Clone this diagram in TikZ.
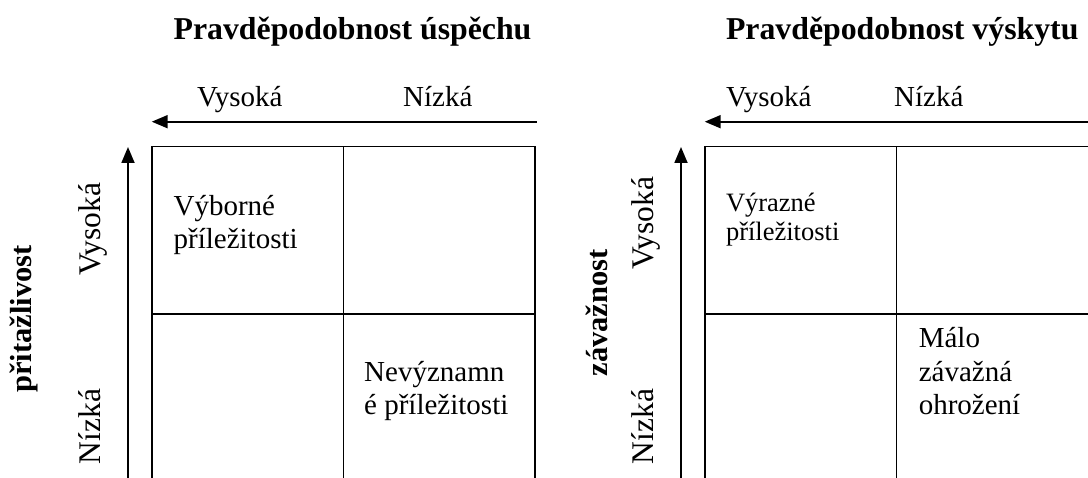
\documentclass[tikz,border=0pt]{standalone}
\usepackage{fontspec}
\setmainfont{Liberation Serif}
\usetikzlibrary{arrows.meta}
\begin{document}
\begin{tikzpicture}[x=1pt,y=-1pt,
  gridline/.style={line width=1.8pt},
  axisarrow/.style={line width=1.8pt,-{Triangle[length=16pt,width=13pt]}},
  body/.style={inner sep=0pt,font=\fontsize{29}{33}\selectfont},
  small/.style={inner sep=0pt,font=\fontsize{26.5}{28.5}\selectfont},
  titletext/.style={inner sep=0pt,font=\fontsize{31.8}{36}\selectfont\bfseries},
  sidetext/.style={inner sep=0pt,font=\fontsize{30.5}{34}\selectfont\bfseries,rotate=90,anchor=base},
  rotlabel/.style={inner sep=0pt,font=\fontsize{31.5}{34}\selectfont,rotate=90,anchor=base}
]
\useasboundingbox (0,0) rectangle (1088,478);
\clip (0,0) rectangle (1088,478);

% ---------- left panel ----------
\node[titletext,anchor=base west] (t1) at (173.4,40) {Pravděpodobnost úspěchu};
\node[body,anchor=base west] (l1h) at (197,107) {Vysoká};
\node[body,anchor=base west] (l1l) at (403,107) {Nízká};
\coordinate (L1s) at (536.7,121.7);
\coordinate (L1e) at (151.7,121.7);
\draw[axisarrow] (L1s) -- (L1e);
\coordinate (V1s) at (128,495);
\coordinate (V1e) at (128,147);
\draw[axisarrow] (V1s) -- (V1e);
\node[sidetext] (s1) at (31,319) {přitažlivost};
\node[rotlabel] (v1h) at (100,229) {Vysoká};
\node[rotlabel] (v1l) at (100,426.5) {Nízká};
\draw[gridline] (152,146.5) rectangle (535,481.5);
\draw[gridline] (343.5,146.5) -- (343.5,481.5);
\draw[gridline] (152,314) -- (535,314);
\node[body,anchor=base west] (c11) at (173.4,216)
  {\begin{tabular}[t]{@{}l@{}}Výborné\\příležitosti\end{tabular}};
\node[body,anchor=base west] (c12) at (364,382)
  {\begin{tabular}[t]{@{}l@{}}Nevýznamn\\é příležitosti\end{tabular}};

% ---------- right panel ----------
\node[titletext,anchor=base west] (t2) at (725.8,40) {Pravděpodobnost výskytu};
\node[body,anchor=base west] (l2h) at (725.8,107) {Vysoká};
\node[body,anchor=base west] (l2l) at (894,107) {Nízká};
\coordinate (L2s) at (1100,121.7);
\coordinate (L2e) at (704.7,121.7);
\draw[axisarrow] (L2s) -- (L2e);
\coordinate (V2s) at (681,495);
\coordinate (V2e) at (681,147);
\draw[axisarrow] (V2s) -- (V2e);
\node[sidetext] (s2) at (607,313) {závažnost};
\node[rotlabel] (v2h) at (653,223) {Vysoká};
\node[rotlabel] (v2l) at (653,426.5) {Nízká};
\draw[gridline] (705,146.5) rectangle (1089,481.5);
\draw[gridline] (896.5,146.5) -- (896.5,481.5);
\draw[gridline] (705,314) -- (1089,314);
\node[small,anchor=base west] (c21) at (725.8,212)
  {\begin{tabular}[t]{@{}l@{}}Výrazné\\příležitosti\end{tabular}};
\node[body,anchor=base west] (c22) at (918.6,348)
  {\fontsize{29}{33.5}\selectfont\begin{tabular}[t]{@{}l@{}}Málo\\závažná\\ohrožení\end{tabular}};
\end{tikzpicture}
\end{document}
